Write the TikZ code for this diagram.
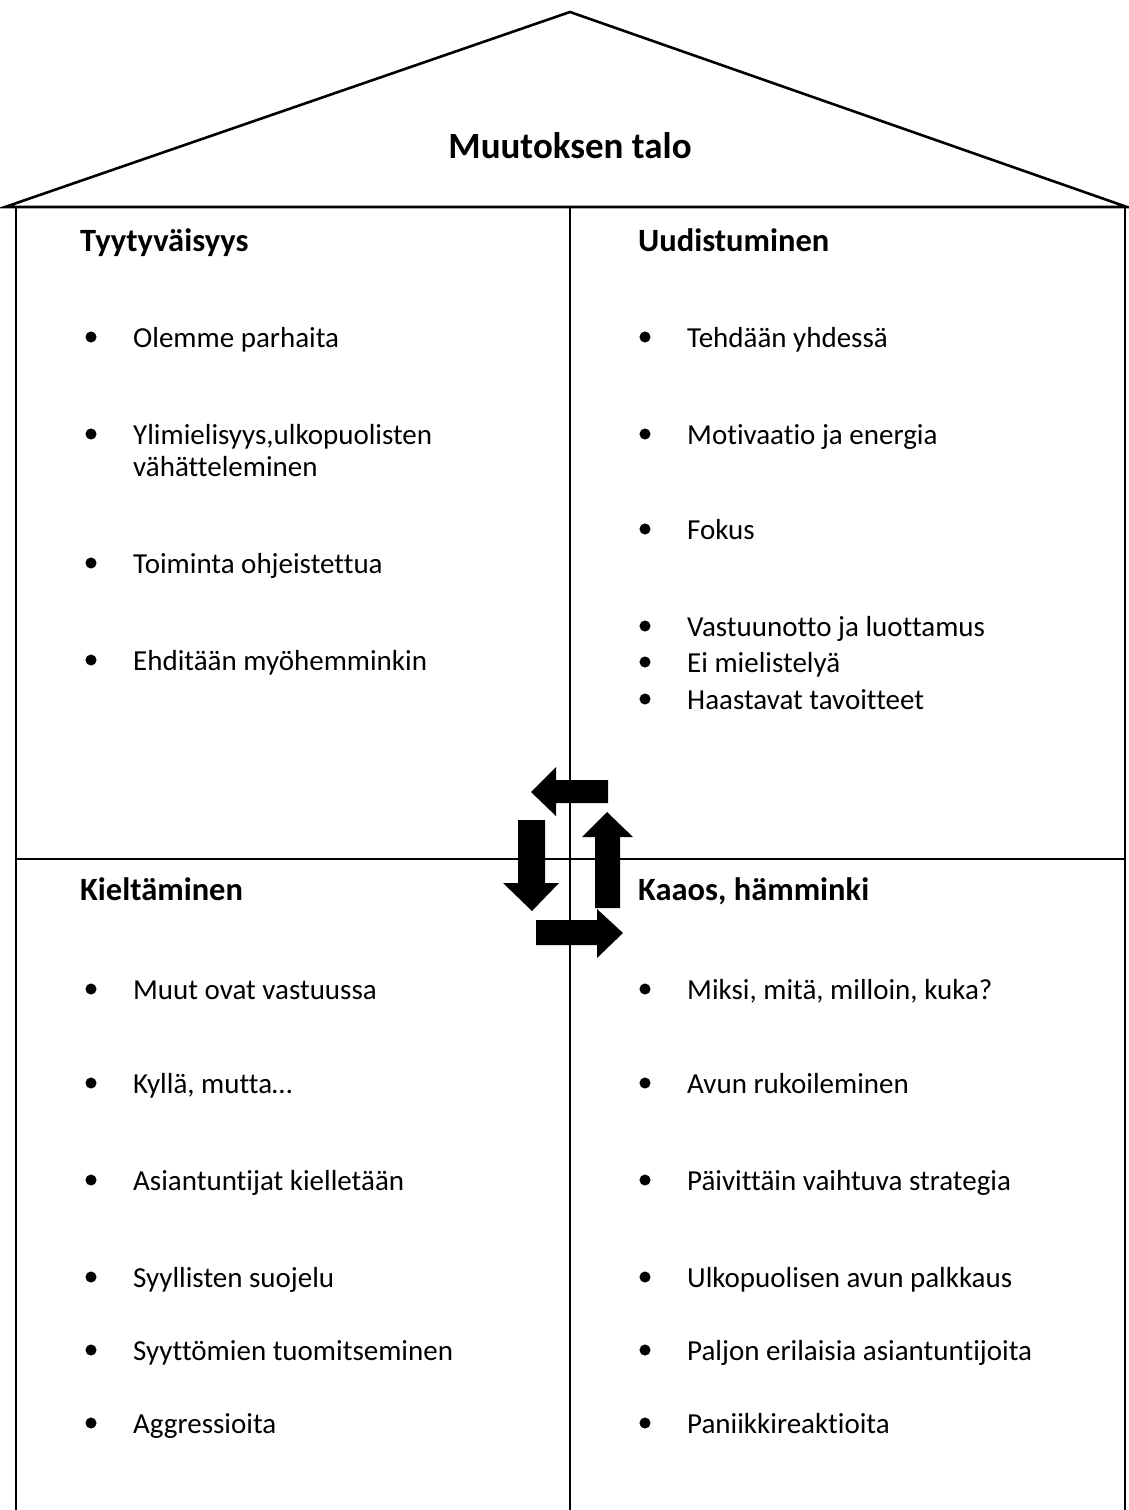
\documentclass[tikz,border=0pt]{standalone}
\usepackage{fontspec}
\setmainfont{Carlito}[Ligatures=NoCommon]
\begin{document}
\begin{tikzpicture}[x=1bp,y=-1bp,
  wall/.style={line width=2.6bp,line join=miter},
  body/.style={anchor=base west,inner sep=0pt,font=\fontsize{29bp}{32bp}\selectfont},
  head/.style={anchor=base west,inner sep=0pt,font=\fontsize{32.5bp}{36bp}\selectfont\bfseries},
  bul/.style={circle,fill=black,draw=black,line width=1bp,inner sep=0pt,minimum size=10bp}]
\useasboundingbox (0,0) rectangle (1128,1510);
% roof
\draw[wall] (5,207) -- (570,12) -- (1127,207) -- cycle;
% walls
\draw[wall] (16,207) -- (16,1512);
\draw[wall] (1125,207) -- (1125,1512);
\draw[wall] (570,207) -- (570,1512);
\draw[wall] (16,859) -- (1125,859);
% title
\node[anchor=base,inner sep=0pt,font=\fontsize{37bp}{40bp}\selectfont\bfseries] (title) at (570,159) {Muutoksen talo};
% headers
\node[head] (h1) at (80,251) {Tyytyväisyys};
\node[head] (h2) at (638,251) {Uudistuminen};
\node[head] (h3) at (80,900) {Kieltäminen};
\node[head] (h4) at (638,900) {Kaaos, hämminki};
% left top items
\foreach \y/\t [count=\i] in {337/Olemme parhaita,434/{Ylimielisyys,ulkopuolisten},563/Toiminta ohjeistettua,660/Ehditään myöhemminkin}{
  \node[bul] (lb\i) at (91,\y) {};
  \node[body] (lt\i) at (133,\y+10) {\t};
}
\node[body] (lt2b) at (133,476) {vähätteleminen};
% right top items
\foreach \y/\t [count=\i] in {337/Tehdään yhdessä,434/Motivaatio ja energia,529/Fokus,626/Vastuunotto ja luottamus,662/Ei mielistelyä,699/Haastavat tavoitteet}{
  \node[bul] (rb\i) at (645,\y) {};
  \node[body] (rt\i) at (687,\y+10) {\t};
}
% left bottom items
\foreach \y/\t [count=\i] in {989/Muut ovat vastuussa,1083/{Kyllä, mutta…},1180/Asiantuntijat kielletään,1277/Syyllisten suojelu,1350/Syyttömien tuomitseminen,1423/Aggressioita}{
  \node[bul] (lbb\i) at (91,\y) {};
  \node[body] (lbt\i) at (133,\y+10) {\t};
}
% right bottom items
\foreach \y/\t [count=\i] in {989/{Miksi, mitä, milloin, kuka?},1083/Avun rukoileminen,1180/Päivittäin vaihtuva strategia,1277/Ulkopuolisen avun palkkaus,1350/Paljon erilaisia asiantuntijoita,1423/Paniikkireaktioita}{
  \node[bul] (rbb\i) at (645,\y) {};
  \node[body] (rbt\i) at (687,\y+10) {\t};
}
% cycle arrows
\fill (531,792) -- (556,767) -- (556,780) -- (608,780) -- (608,803) -- (556,803) -- (556,816) -- cycle;
\fill (532,911) -- (503,883) -- (518,883) -- (518,820) -- (545,820) -- (545,883) -- (559,883) -- cycle;
\fill (607,812) -- (633,837) -- (620,837) -- (620,908) -- (595,908) -- (595,837) -- (582,837) -- cycle;
\fill (623,933) -- (597,958) -- (597,945) -- (536,945) -- (536,920) -- (597,920) -- (597,909) -- cycle;
\end{tikzpicture}
\end{document}
